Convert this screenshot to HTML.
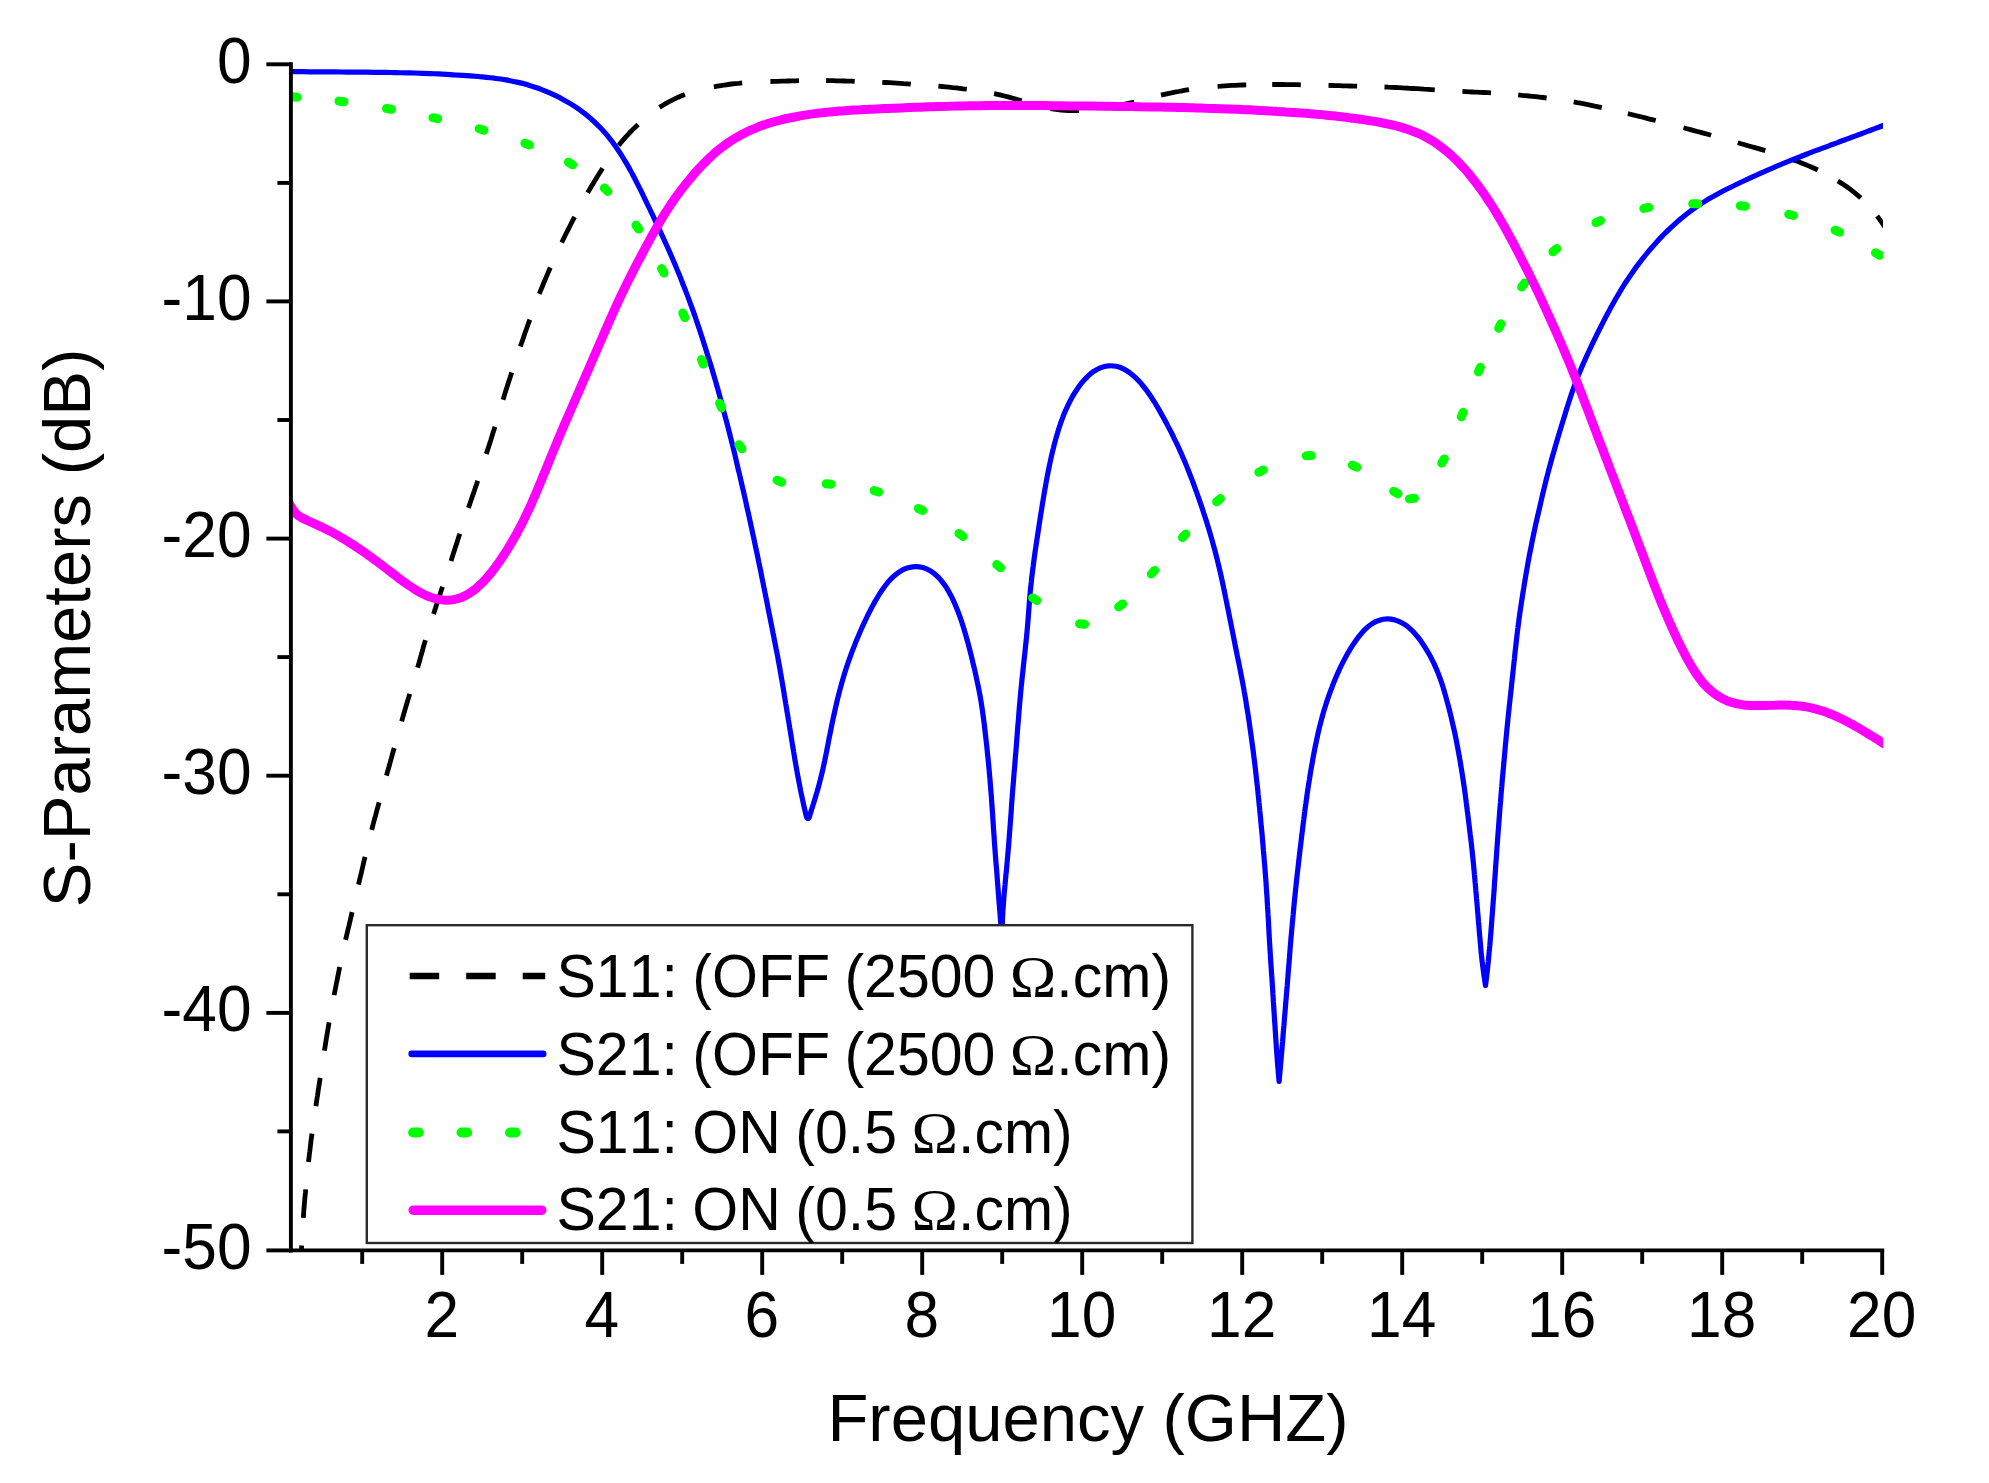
<!DOCTYPE html>
<html lang="en"><head><meta charset="utf-8"><title>S-Parameters vs Frequency</title>
<style>html,body{margin:0;padding:0;background:#fff}svg{display:block}text{font-family:"Liberation Sans",Arial,Helvetica,sans-serif;fill:#000;font-kerning:none}.om{font-family:"Liberation Serif","Times New Roman",serif}</style></head><body>
<svg width="1989" height="1483" viewBox="0 0 1989 1483">
<rect width="1989" height="1483" fill="#fff"/>
<g>
<defs><clipPath id="cp"><rect x="288.9" y="0" width="1594.1" height="1251.9"/></clipPath></defs>
<g clip-path="url(#cp)" fill="none">
<g stroke="#000" stroke-width="4.8" stroke-linecap="butt">
<path d="M300.3,1274L300.4,1270.5L300.6,1266.9L300.8,1263.3L301,1259.7L301.1,1256.2L301.3,1252.6L301.5,1249L301.7,1245.5M303.3,1217.9L303.6,1214.3L303.8,1210.8L304.1,1207.2L304.4,1203.7L304.7,1200.1L305,1196.5L305.4,1193L305.7,1189.4M308.5,1162L308.9,1158.4L309.3,1154.9L309.8,1151.3L310.2,1147.8L310.6,1144.2L311,1140.7L311.5,1137.1L312,1133.6M315.9,1106.2L316.4,1102.7L316.9,1099.1L317.5,1095.6L318,1092.1L318.5,1088.5L319.1,1085L319.6,1081.5L320.2,1077.9M324.4,1050.6L325,1047.1L325.6,1043.5L326.1,1040L326.7,1036.5L327.3,1032.9L327.9,1029.4L328.5,1025.9L329.1,1022.4M334.1,995.1L334.8,991.6L335.5,988.1L336.2,984.6L336.9,981.1L337.6,977.5L338.3,974L339,970.5L339.7,967M345.6,939.9L346.4,936.4L347.2,933L348,929.5L348.9,926L349.7,922.5L350.5,919L351.3,915.6L352.1,912.1M358.5,884.6L359.3,881.1L360.1,877.6L361,874.2L361.8,870.7L362.6,867.2L363.4,863.7L364.2,860.2L365.1,856.8M371.7,829.9L372.6,826.4L373.5,823L374.4,819.5L375.4,816.1L376.3,812.6L377.2,809.2L378.2,805.7L379.1,802.3M386.5,775.6L387.4,772.1L388.4,768.7L389.4,765.3L390.3,761.8L391.3,758.4L392.2,754.9L393.2,751.5L394.2,748M401.7,721.4L402.6,718L403.6,714.5L404.6,711.1L405.6,707.6L406.6,704.2L407.6,700.8L408.7,697.4L409.7,693.9M417.6,667.6L418.6,664.2L419.6,660.8L420.5,657.3L421.5,653.9L422.5,650.5L423.4,647L424.4,643.6L425.4,640.1M433.6,613.9L434.7,610.5L435.8,607.1L436.9,603.7L438,600.3L439.1,596.9L440.3,593.5L441.4,590.1L442.5,586.8M451,560.9L452.1,557.5L453.2,554.1L454.3,550.7L455.4,547.3L456.5,543.9L457.6,540.5L458.7,537.1L459.8,533.7M468.4,507.9L469.6,504.5L470.8,501.1L471.9,497.7L473.1,494.4L474.3,491L475.4,487.6L476.6,484.2L477.7,480.8M486.3,454L487.4,450.6L488.5,447.2L489.6,443.8L490.7,440.4L491.7,437L492.8,433.6L493.9,430.1L494.9,426.7M503,399.7L504.1,396.3L505.1,392.9L506.2,389.5L507.3,386.1L508.4,382.7L509.5,379.3L510.6,375.9L511.7,372.5M520.3,346.5L521.5,343.2L522.7,339.8L523.8,336.4L525,333L526.2,329.7L527.4,326.3L528.6,322.9L529.8,319.6M539.3,293.9L540.6,290.6L542,287.3L543.3,284L544.7,280.7L546.1,277.4L547.5,274.1L548.9,270.8L550.3,267.5M561.7,242.5L563.3,239.3L564.9,236L566.5,232.8L568.1,229.6L569.7,226.5L571.3,223.3L572.9,220.1L574.6,216.9M587.7,192.7L589.5,189.6L591.3,186.6L593.2,183.5L595,180.4L596.9,177.4L598.8,174.3L600.7,171.3L602.6,168.3M618.7,145.4L620.9,142.6L623.2,139.9L625.6,137.2L628,134.6L630.4,132L632.9,129.4L635.5,126.9L638.1,124.4M659.5,107.4L662.5,105.5L665.6,103.7L668.7,101.9L671.8,100.3L675.1,98.7L678.3,97.2L681.6,95.8L684.9,94.5M713.9,86.8L717.4,86.2L720.9,85.6L724.5,85L728,84.5L731.5,84L735.1,83.6L738.7,83.3L742.2,82.9M770.4,81.5L774,81.4L777.5,81.3L781.1,81.2L784.7,81.1L788.3,81L791.8,80.9L795.4,80.8L799,80.7M826.1,80.5L829.7,80.6L833.2,80.7L836.8,80.8L840.4,80.9L844,81L847.5,81.1L851.1,81.2L854.7,81.4M882.3,82.3L885.8,82.5L889.4,82.7L893,82.9L896.6,83.1L900.1,83.3L903.7,83.6L907.3,83.8L910.8,84.1M938.4,86.2L941.9,86.5L945.5,86.8L949.1,87.2L952.6,87.6L956.2,87.9L959.7,88.3L963.3,88.8L966.8,89.2M994.1,93.6L997.6,94.3L1001,95.1L1004.5,96L1008,96.9L1011.4,97.9L1014.8,98.8L1018.3,99.8L1021.7,100.8M1050.5,108.6L1054,109.2L1057.6,109.7L1061.1,110.1L1064.7,110.4L1068.2,110.6L1071.8,110.7L1075.4,110.7L1079,110.7M1106.3,107.9L1109.8,107.3L1113.4,106.6L1116.9,105.9L1120.4,105.2L1123.9,104.4L1127.3,103.6L1130.8,102.8L1134.3,102M1161,95.2L1164.5,94.4L1167.9,93.6L1171.4,92.9L1174.9,92.1L1178.5,91.5L1182,90.8L1185.5,90.2L1189,89.6M1217.6,86.3L1221.2,86.1L1224.7,85.8L1228.3,85.6L1231.9,85.4L1235.4,85.3L1239,85.1L1242.6,85L1246.2,84.9M1272.2,84.5L1275.8,84.5L1279.4,84.5L1282.9,84.5L1286.5,84.6L1290.1,84.6L1293.6,84.7L1297.2,84.7L1300.8,84.8M1328.5,85.4L1332.1,85.5L1335.6,85.6L1339.2,85.7L1342.8,85.8L1346.4,85.9L1349.9,86L1353.5,86.1L1357.1,86.2M1384.5,87L1388.1,87.2L1391.6,87.3L1395.2,87.5L1398.8,87.7L1402.3,87.9L1405.9,88.1L1409.5,88.3L1413.1,88.5M1406.3,88.1L1409.9,88.3L1413.4,88.5L1417,88.7L1420.6,88.9L1424.1,89.2L1427.7,89.4L1431.3,89.6L1434.8,89.8M1462.4,91.4L1466,91.6L1469.5,91.8L1473.1,92L1476.7,92.1L1480.3,92.3L1483.8,92.5L1487.4,92.7L1491,92.9M1518.2,94.9L1521.8,95.3L1525.3,95.6L1528.9,96L1532.4,96.3L1536,96.7L1539.5,97.1L1543.1,97.5L1546.6,98M1573.7,101.9L1577.3,102.6L1580.8,103.2L1584.3,103.9L1587.8,104.6L1591.3,105.3L1594.8,106.1L1598.3,106.8L1601.8,107.6M1627.9,113.7L1631.4,114.5L1634.9,115.3L1638.3,116.2L1641.8,117L1645.3,117.9L1648.7,118.8L1652.2,119.6L1655.7,120.5M1683.5,127.8L1687,128.7L1690.4,129.6L1693.9,130.6L1697.3,131.5L1700.8,132.4L1704.2,133.4L1707.7,134.3L1711.1,135.3M1737.8,142.8L1741.2,143.8L1744.7,144.7L1748.1,145.7L1751.6,146.7L1755,147.6L1758.4,148.6L1761.9,149.6L1765.3,150.6M1791.4,159.1L1794.7,160.4L1798.1,161.6L1801.4,162.9L1804.7,164.2L1808,165.6L1811.3,167L1814.6,168.5L1817.8,170M1837.8,181L1840.9,182.9L1843.8,184.8L1846.8,186.8L1849.7,188.9L1852.6,191.1L1855.4,193.3L1858.1,195.6L1860.8,198M1877.1,216L1879.4,219.1L1881.6,222.2L1883.8,225.4L1885.9,228.6L1887.9,231.8L1890,235"/>
</g>
<path d="M286,71.6C287.3,71.6 291.3,71.6 294,71.7C296.7,71.7 299.4,71.7 302,71.7C304.7,71.7 307.4,71.7 310.1,71.8C312.7,71.8 315.4,71.8 318.1,71.8C320.8,71.8 323.4,71.9 326.1,71.9C328.8,71.9 331.5,71.9 334.1,71.9C336.8,72 339.5,72 342.2,72C344.8,72 347.5,72.1 350.2,72.1C352.9,72.1 355.5,72.1 358.2,72.2C360.9,72.2 363.6,72.2 366.2,72.2C368.9,72.3 371.6,72.3 374.2,72.3C376.9,72.3 379.6,72.4 382.3,72.4C384.9,72.4 387.6,72.5 390.3,72.5C393,72.6 395.6,72.6 398.3,72.7C401,72.7 403.7,72.8 406.3,72.8C409,72.9 411.7,72.9 414.4,73C417,73.1 419.7,73.2 422.4,73.3C425,73.4 427.7,73.5 430.4,73.6C433.1,73.7 435.7,73.8 438.4,73.9C441.1,74 443.7,74.2 446.4,74.3C449.1,74.5 451.8,74.6 454.4,74.8C457.1,74.9 459.8,75.1 462.4,75.3C465.1,75.5 467.8,75.7 470.4,75.9C473.1,76.1 475.8,76.3 478.4,76.5C481.1,76.8 483.8,77 486.4,77.3C489.1,77.6 491.7,77.9 494.4,78.2C497,78.6 499.7,78.9 502.3,79.3C505,79.8 507.6,80.2 510.2,80.7C512.9,81.2 515.5,81.8 518.1,82.4C520.7,83 523.3,83.6 525.9,84.3C528.4,85.1 531,85.8 533.5,86.7C536.1,87.5 538.6,88.4 541.1,89.3C543.6,90.3 546.1,91.3 548.5,92.3C551,93.4 553.4,94.5 555.8,95.7C558.2,96.9 560.6,98.1 562.9,99.4C565.3,100.7 567.6,102 569.9,103.4C572.2,104.8 574.4,106.2 576.6,107.7C578.8,109.2 581,110.8 583.1,112.4C585.3,114 587.4,115.7 589.4,117.4C591.4,119.2 593.4,121 595.4,122.8C597.3,124.6 599.2,126.5 601.1,128.5C602.9,130.4 604.7,132.4 606.4,134.4C608.1,136.5 609.8,138.6 611.4,140.7C613.1,142.8 614.6,145 616.2,147.2C617.7,149.4 619.2,151.6 620.6,153.8C622.1,156.1 623.5,158.4 624.8,160.7C626.2,163 627.6,165.3 628.9,167.6C630.2,169.9 631.4,172.3 632.7,174.6C634,177 635.2,179.4 636.4,181.8C637.6,184.1 638.8,186.5 640,188.9C641.2,191.3 642.4,193.7 643.5,196.1C644.7,198.5 645.9,201 647,203.4C648.2,205.8 649.3,208.2 650.5,210.6C651.6,213 652.8,215.4 653.9,217.8C655.1,220.3 656.2,222.7 657.3,225.1C658.5,227.5 659.6,230 660.7,232.4C661.8,234.8 663,237.2 664.1,239.7C665.2,242.1 666.3,244.5 667.4,247C668.5,249.4 669.6,251.9 670.6,254.3C671.7,256.8 672.8,259.2 673.8,261.7C674.9,264.1 675.9,266.6 676.9,269.1C677.9,271.5 679,274 680,276.5C681,279 682,281.5 682.9,284C683.9,286.4 684.9,288.9 685.8,291.4C686.8,293.9 687.8,296.4 688.7,298.9C689.6,301.4 690.5,303.9 691.5,306.5C692.4,309 693.3,311.5 694.2,314C695.1,316.5 695.9,319.1 696.8,321.6C697.7,324.1 698.5,326.7 699.4,329.2C700.2,331.7 701,334.3 701.9,336.8C702.7,339.4 703.5,341.9 704.3,344.5C705.1,347 705.9,349.6 706.7,352.1C707.5,354.7 708.3,357.2 709.1,359.8C709.9,362.3 710.7,364.9 711.5,367.4C712.2,370 713,372.6 713.8,375.1C714.5,377.7 715.3,380.3 716,382.8C716.7,385.4 717.5,388 718.2,390.5C718.9,393.1 719.6,395.7 720.3,398.3C721,400.9 721.7,403.5 722.4,406C723.1,408.6 723.7,411.2 724.4,413.8C725.1,416.4 725.8,419 726.5,421.5C727.2,424.1 727.9,426.7 728.5,429.3C729.2,431.9 729.9,434.5 730.5,437.1C731.2,439.7 731.8,442.3 732.5,444.9C733.1,447.5 733.7,450.1 734.4,452.7C735,455.3 735.6,457.9 736.2,460.5C736.8,463.1 737.4,465.7 738,468.3C738.6,470.9 739.3,473.5 739.9,476.1C740.5,478.7 741.1,481.3 741.7,483.9C742.3,486.5 742.9,489.1 743.5,491.7C744.1,494.3 744.7,496.9 745.3,499.5C745.9,502.1 746.4,504.8 747,507.4C747.6,510 748.2,512.6 748.8,515.2C749.3,517.8 749.9,520.4 750.5,523C751,525.6 751.6,528.3 752.2,530.9C752.7,533.5 753.3,536.1 753.9,538.7C754.4,541.3 755,543.9 755.5,546.6C756.1,549.2 756.7,551.8 757.2,554.4C757.8,557 758.3,559.6 758.8,562.3C759.4,564.9 759.9,567.5 760.5,570.1C761,572.7 761.5,575.4 762,578C762.6,580.6 763.1,583.2 763.6,585.9C764.1,588.5 764.7,591.1 765.2,593.7C765.7,596.3 766.2,599 766.8,601.6C767.3,604.2 767.8,606.8 768.3,609.5C768.8,612.1 769.4,614.7 769.9,617.3C770.4,620 770.9,622.6 771.5,625.2C772,627.8 772.5,630.4 773,633.1C773.6,635.7 774.1,638.3 774.6,640.9C775.1,643.6 775.6,646.2 776.1,648.8C776.7,651.4 777.2,654.1 777.7,656.7C778.1,659.3 778.6,661.9 779.1,664.6C779.6,667.2 780.1,669.8 780.5,672.5C781,675.1 781.4,677.7 781.9,680.4C782.3,683 782.8,685.6 783.2,688.3C783.7,690.9 784.1,693.6 784.5,696.2C785,698.8 785.4,701.5 785.8,704.1C786.3,706.8 786.7,709.4 787.1,712C787.6,714.7 788,717.3 788.4,719.9C788.9,722.6 789.3,725.2 789.7,727.9C790.2,730.5 790.6,733.1 791,735.8C791.5,738.4 791.9,741.1 792.3,743.7C792.8,746.3 793.2,749 793.6,751.6C794.1,754.3 794.5,756.9 794.9,759.5C795.4,762.2 795.8,764.8 796.3,767.4C796.8,770.1 797.2,772.7 797.7,775.3C798.2,778 798.7,780.6 799.2,783.2C799.7,785.9 800.2,788.5 800.7,791.1C801.3,793.7 801.8,796.3 802.4,798.9C802.9,801.6 803.5,804.2 804.1,806.8C804.7,809.4 805.6,813.3 805.9,814.6C806.8,819.9 809.1,819.9 810,814.6C810.4,813.3 811.6,809.5 812.4,807C813.2,804.5 814,801.9 814.8,799.4C815.6,796.9 816.3,794.3 817.1,791.8C817.8,789.2 818.5,786.6 819.2,784.1C819.9,781.5 820.5,778.9 821.2,776.3C821.8,773.8 822.4,771.2 823,768.6C823.6,766 824.1,763.4 824.7,760.8C825.2,758.2 825.8,755.6 826.3,753C826.8,750.4 827.3,747.8 827.8,745.2C828.3,742.5 828.8,739.9 829.3,737.3C829.9,734.7 830.4,732.1 830.9,729.5C831.4,726.9 831.9,724.3 832.5,721.7C833,719.1 833.6,716.5 834.2,713.9C834.7,711.3 835.3,708.7 835.9,706.1C836.5,703.5 837.1,700.9 837.7,698.4C838.4,695.8 839,693.2 839.7,690.6C840.4,688.1 841.1,685.5 841.8,682.9C842.5,680.4 843.3,677.8 844,675.3C844.8,672.7 845.6,670.2 846.4,667.7C847.2,665.2 848.1,662.6 849,660.1C849.9,657.6 850.8,655.1 851.7,652.6C852.6,650.1 853.6,647.7 854.6,645.2C855.5,642.7 856.5,640.3 857.6,637.8C858.6,635.4 859.6,632.9 860.7,630.5C861.8,628 862.9,625.6 864,623.2C865.1,620.8 866.3,618.4 867.4,616C868.6,613.6 869.8,611.3 871,608.9C872.3,606.6 873.5,604.2 874.8,601.9C876.1,599.6 877.5,597.3 878.9,595C880.3,592.8 881.7,590.5 883.3,588.4C884.8,586.2 886.4,584.1 888.1,582.1C889.9,580.1 891.7,578.1 893.7,576.3C895.6,574.6 897.7,572.9 900,571.5C902.2,570.1 904.7,568.9 907.2,568.1C909.7,567.3 912.4,566.7 915,566.6C917.6,566.5 920.3,566.9 922.9,567.6C925.4,568.3 927.9,569.4 930.2,570.7C932.4,572 934.6,573.7 936.5,575.5C938.5,577.3 940.3,579.3 941.9,581.3C943.6,583.4 945.1,585.6 946.6,587.8C948,590.1 949.3,592.4 950.5,594.8C951.8,597.1 952.9,599.5 954,601.9C955.1,604.3 956.1,606.8 957.1,609.3C958.1,611.7 959,614.2 959.9,616.7C960.8,619.2 961.7,621.8 962.5,624.3C963.3,626.8 964.1,629.4 964.8,631.9C965.6,634.4 966.3,637 967,639.6C967.8,642.1 968.4,644.7 969.1,647.3C969.8,649.8 970.4,652.4 971.1,655C971.7,657.6 972.3,660.2 972.9,662.7C973.6,665.3 974.2,667.9 974.8,670.5C975.4,673.1 976,675.7 976.5,678.3C977.1,680.9 977.6,683.5 978.2,686.1C978.7,688.7 979.2,691.3 979.7,693.9C980.2,696.5 980.6,699.1 981.1,701.8C981.5,704.4 981.9,707 982.3,709.6C982.7,712.3 983,714.9 983.4,717.5C983.7,720.2 984.1,722.8 984.4,725.4C984.7,728.1 985,730.7 985.3,733.4C985.6,736 985.9,738.6 986.2,741.3C986.5,743.9 986.8,746.6 987.1,749.2C987.3,751.9 987.6,754.5 987.9,757.1C988.2,759.8 988.4,762.4 988.7,765.1C988.9,767.7 989.2,770.4 989.4,773C989.6,775.7 989.9,778.3 990.1,781C990.3,783.6 990.5,786.3 990.7,788.9C990.9,791.6 991.1,794.2 991.4,796.9C991.6,799.5 991.7,802.2 991.9,804.8C992.1,807.5 992.3,810.1 992.5,812.8C992.7,815.4 992.8,818.1 993,820.7C993.2,823.4 993.3,826 993.5,828.7C993.7,831.3 993.9,834 994.1,836.6C994.2,839.3 994.4,841.9 994.6,844.6C994.8,847.2 995,849.9 995.2,852.5C995.4,855.2 995.6,857.8 995.8,860.5C996,863.1 996.2,865.8 996.5,868.4C996.7,871.1 996.9,873.7 997.1,876.4C997.3,879 997.5,881.7 997.7,884.3C997.9,887 998.1,889.6 998.3,892.3C998.5,894.9 998.7,897.6 998.9,900.2C999.1,902.9 999.4,905.5 999.6,908.2C999.8,910.8 1000,913.5 1000.2,916.1C1000.4,918.8 1000.6,921.4 1000.8,924.1C1001,926.7 1001.1,929.4 1001.3,932C1001.4,934.7 1001.6,938.7 1001.7,940C1001.7,938.7 1001.9,934.7 1002,932C1002.1,929.4 1002.2,926.7 1002.3,924C1002.4,921.4 1002.5,918.7 1002.6,916.1C1002.8,913.4 1002.9,910.7 1003.1,908.1C1003.3,905.4 1003.5,902.8 1003.7,900.1C1003.9,897.5 1004.1,894.8 1004.3,892.2C1004.6,889.5 1004.8,886.9 1005.1,884.2C1005.3,881.6 1005.6,878.9 1005.8,876.3C1006.1,873.6 1006.4,871 1006.6,868.3C1006.9,865.7 1007.1,863 1007.3,860.4C1007.6,857.7 1007.8,855.1 1008,852.4C1008.2,849.8 1008.5,847.1 1008.7,844.5C1008.9,841.8 1009.1,839.2 1009.3,836.5C1009.5,833.9 1009.7,831.2 1009.9,828.5C1010.1,825.9 1010.3,823.2 1010.5,820.6C1010.7,817.9 1010.9,815.3 1011.1,812.6C1011.3,810 1011.4,807.3 1011.6,804.7C1011.8,802 1012,799.3 1012.2,796.7C1012.4,794 1012.6,791.4 1012.8,788.7C1013.1,786.1 1013.3,783.4 1013.5,780.8C1013.7,778.1 1013.9,775.5 1014.1,772.8C1014.4,770.2 1014.6,767.5 1014.8,764.9C1015,762.2 1015.2,759.5 1015.4,756.9C1015.7,754.2 1015.9,751.6 1016.1,748.9C1016.3,746.3 1016.5,743.6 1016.7,741C1016.9,738.3 1017.1,735.7 1017.3,733C1017.5,730.4 1017.7,727.7 1017.9,725.1C1018.2,722.4 1018.4,719.8 1018.6,717.1C1018.8,714.4 1019,711.8 1019.2,709.1C1019.4,706.5 1019.7,703.8 1019.9,701.2C1020.1,698.5 1020.4,695.9 1020.6,693.2C1020.9,690.6 1021.1,687.9 1021.4,685.3C1021.7,682.6 1021.9,680 1022.2,677.3C1022.5,674.7 1022.8,672 1023.1,669.4C1023.3,666.8 1023.6,664.1 1023.9,661.5C1024.2,658.8 1024.5,656.2 1024.8,653.5C1025.1,650.9 1025.4,648.2 1025.6,645.6C1025.9,642.9 1026.2,640.3 1026.5,637.6C1026.7,635 1027,632.4 1027.2,629.7C1027.5,627 1027.7,624.4 1027.9,621.7C1028.1,619.1 1028.3,616.4 1028.5,613.8C1028.7,611.1 1028.9,608.5 1029.1,605.8C1029.3,603.2 1029.5,600.5 1029.7,597.9C1030,595.2 1030.2,592.6 1030.4,589.9C1030.7,587.3 1031,584.6 1031.3,582C1031.5,579.3 1031.8,576.7 1032.2,574C1032.5,571.4 1032.8,568.8 1033.2,566.1C1033.5,563.5 1033.9,560.8 1034.2,558.2C1034.6,555.6 1035,552.9 1035.3,550.3C1035.7,547.7 1036.1,545 1036.5,542.4C1036.9,539.8 1037.3,537.1 1037.7,534.5C1038.1,531.9 1038.5,529.2 1038.9,526.6C1039.3,524 1039.7,521.3 1040.1,518.7C1040.5,516.1 1040.9,513.5 1041.4,510.8C1041.8,508.2 1042.2,505.6 1042.6,502.9C1043.1,500.3 1043.5,497.7 1043.9,495.1C1044.4,492.4 1044.8,489.8 1045.3,487.2C1045.8,484.6 1046.2,482 1046.7,479.3C1047.2,476.7 1047.7,474.1 1048.2,471.5C1048.7,468.9 1049.3,466.3 1049.8,463.7C1050.4,461.1 1050.9,458.5 1051.5,455.9C1052.1,453.3 1052.7,450.7 1053.4,448.1C1054,445.5 1054.7,442.9 1055.4,440.4C1056.1,437.8 1056.8,435.3 1057.6,432.7C1058.3,430.2 1059.1,427.6 1060,425.1C1060.8,422.6 1061.7,420.1 1062.7,417.6C1063.6,415.1 1064.6,412.6 1065.7,410.2C1066.8,407.8 1067.9,405.3 1069.1,403C1070.3,400.6 1071.5,398.2 1072.9,395.9C1074.2,393.6 1075.6,391.4 1077.1,389.2C1078.6,387 1080.2,384.8 1081.9,382.7C1083.5,380.7 1085.3,378.7 1087.2,376.8C1089.1,375 1091.2,373.2 1093.3,371.7C1095.5,370.2 1097.8,368.8 1100.3,367.8C1102.7,366.9 1105.4,366.1 1108,365.9C1110.6,365.6 1113.4,365.8 1115.9,366.3C1118.5,366.8 1121.1,367.7 1123.5,368.9C1125.8,370 1128.1,371.5 1130.2,373.1C1132.4,374.6 1134.3,376.5 1136.3,378.3C1138.2,380.2 1140,382.1 1141.7,384.2C1143.4,386.2 1145,388.3 1146.6,390.4C1148.2,392.6 1149.7,394.8 1151.2,397C1152.6,399.2 1154.1,401.5 1155.5,403.7C1156.8,406 1158.2,408.3 1159.5,410.6C1160.8,412.9 1162.1,415.2 1163.4,417.6C1164.7,419.9 1166,422.2 1167.2,424.6C1168.4,427 1169.7,429.3 1170.9,431.7C1172.1,434.1 1173.3,436.4 1174.4,438.8C1175.6,441.2 1176.7,443.6 1177.9,446C1179,448.5 1180.1,450.9 1181.2,453.3C1182.2,455.7 1183.3,458.2 1184.3,460.6C1185.4,463.1 1186.4,465.6 1187.4,468C1188.4,470.5 1189.4,473 1190.3,475.4C1191.3,477.9 1192.3,480.4 1193.2,482.9C1194.1,485.4 1195,487.9 1195.9,490.4C1196.8,492.9 1197.7,495.4 1198.6,497.9C1199.5,500.4 1200.4,502.9 1201.2,505.5C1202.1,508 1202.9,510.5 1203.7,513C1204.6,515.6 1205.4,518.1 1206.2,520.6C1207,523.2 1207.8,525.7 1208.6,528.3C1209.3,530.8 1210.1,533.4 1210.8,535.9C1211.6,538.5 1212.3,541 1213,543.6C1213.7,546.2 1214.4,548.7 1215.1,551.3C1215.8,553.9 1216.4,556.5 1217.1,559C1217.7,561.6 1218.3,564.2 1219,566.8C1219.6,569.4 1220.2,572 1220.8,574.6C1221.3,577.2 1221.9,579.8 1222.5,582.4C1223,585 1223.6,587.6 1224.1,590.2C1224.7,592.8 1225.2,595.4 1225.7,598C1226.3,600.6 1226.8,603.2 1227.3,605.8C1227.9,608.4 1228.4,611.1 1228.9,613.7C1229.4,616.3 1229.9,618.9 1230.5,621.5C1231,624.1 1231.5,626.7 1232,629.3C1232.5,631.9 1233,634.5 1233.6,637.2C1234.1,639.8 1234.6,642.4 1235.1,645C1235.6,647.6 1236.2,650.2 1236.7,652.8C1237.2,655.4 1237.8,658 1238.3,660.6C1238.8,663.2 1239.4,665.9 1239.9,668.5C1240.4,671.1 1240.9,673.7 1241.4,676.3C1241.9,678.9 1242.4,681.5 1242.9,684.1C1243.4,686.8 1243.9,689.4 1244.3,692C1244.8,694.6 1245.2,697.2 1245.7,699.9C1246.1,702.5 1246.5,705.1 1246.9,707.8C1247.4,710.4 1247.8,713 1248.2,715.6C1248.6,718.3 1249,720.9 1249.4,723.5C1249.7,726.2 1250.1,728.8 1250.5,731.4C1250.9,734.1 1251.2,736.7 1251.6,739.3C1252,742 1252.3,744.6 1252.7,747.3C1253,749.9 1253.4,752.5 1253.7,755.2C1254,757.8 1254.4,760.5 1254.7,763.1C1255,765.7 1255.3,768.4 1255.6,771C1255.9,773.7 1256.2,776.3 1256.5,779C1256.8,781.6 1257.1,784.3 1257.4,786.9C1257.7,789.5 1258,792.2 1258.2,794.8C1258.5,797.5 1258.8,800.1 1259,802.8C1259.3,805.4 1259.6,808.1 1259.8,810.7C1260.1,813.4 1260.3,816 1260.6,818.7C1260.8,821.3 1261.1,824 1261.3,826.6C1261.6,829.3 1261.8,831.9 1262.1,834.6C1262.3,837.2 1262.5,839.9 1262.8,842.5C1263,845.2 1263.2,847.8 1263.4,850.5C1263.7,853.1 1263.9,855.8 1264.1,858.4C1264.3,861.1 1264.5,863.8 1264.8,866.4C1265,869.1 1265.2,871.7 1265.4,874.4C1265.6,877 1265.8,879.7 1266,882.3C1266.2,885 1266.3,887.6 1266.5,890.3C1266.7,892.9 1266.9,895.6 1267.1,898.3C1267.2,900.9 1267.4,903.6 1267.5,906.2C1267.7,908.9 1267.9,911.5 1268,914.2C1268.2,916.9 1268.3,919.5 1268.5,922.2C1268.6,924.8 1268.7,927.5 1268.9,930.1C1269,932.8 1269.2,935.5 1269.3,938.1C1269.5,940.8 1269.6,943.4 1269.8,946.1C1270,948.7 1270.1,951.4 1270.3,954.1C1270.5,956.7 1270.6,959.4 1270.8,962C1271,964.7 1271.2,967.3 1271.3,970C1271.5,972.6 1271.7,975.3 1271.9,978C1272.1,980.6 1272.2,983.3 1272.4,985.9C1272.6,988.6 1272.8,991.2 1272.9,993.9C1273.1,996.5 1273.3,999.2 1273.4,1001.9C1273.6,1004.5 1273.8,1007.2 1273.9,1009.8C1274.1,1012.5 1274.3,1015.1 1274.4,1017.8C1274.6,1020.5 1274.8,1023.1 1275,1025.8C1275.1,1028.4 1275.3,1031.1 1275.5,1033.7C1275.6,1036.4 1275.8,1039 1276,1041.7C1276.2,1044.4 1276.3,1047 1276.5,1049.7C1276.7,1052.3 1276.9,1055 1277.1,1057.6C1277.3,1060.3 1277.5,1062.9 1277.7,1065.6C1278,1068.2 1278.2,1070.9 1278.4,1073.5C1278.6,1076.2 1279,1080.2 1279.1,1081.5C1279.2,1080.2 1279.6,1076.2 1279.8,1073.6C1280.1,1070.9 1280.3,1068.3 1280.5,1065.6C1280.8,1062.9 1281,1060.3 1281.2,1057.6C1281.5,1055 1281.7,1052.3 1281.9,1049.7C1282.1,1047 1282.3,1044.4 1282.6,1041.7C1282.8,1039.1 1283,1036.4 1283.2,1033.8C1283.4,1031.1 1283.6,1028.5 1283.9,1025.8C1284.1,1023.2 1284.3,1020.5 1284.5,1017.9C1284.7,1015.2 1285,1012.6 1285.2,1009.9C1285.4,1007.3 1285.6,1004.6 1285.8,1002C1286.1,999.3 1286.3,996.7 1286.5,994C1286.7,991.4 1286.9,988.7 1287.2,986C1287.4,983.4 1287.6,980.7 1287.8,978.1C1288,975.4 1288.2,972.8 1288.4,970.1C1288.6,967.5 1288.9,964.8 1289.1,962.2C1289.3,959.5 1289.5,956.9 1289.7,954.2C1289.9,951.6 1290.1,948.9 1290.3,946.3C1290.6,943.6 1290.8,941 1291,938.3C1291.2,935.7 1291.5,933 1291.7,930.4C1291.9,927.7 1292.2,925.1 1292.4,922.4C1292.7,919.8 1292.9,917.1 1293.2,914.5C1293.4,911.8 1293.7,909.2 1293.9,906.5C1294.2,903.9 1294.4,901.2 1294.7,898.6C1295,895.9 1295.2,893.3 1295.5,890.6C1295.8,888 1296.1,885.3 1296.3,882.7C1296.6,880 1296.9,877.4 1297.2,874.7C1297.5,872.1 1297.8,869.5 1298.1,866.8C1298.4,864.2 1298.7,861.5 1299,858.9C1299.3,856.2 1299.6,853.6 1299.9,851C1300.2,848.3 1300.6,845.7 1300.9,843C1301.2,840.4 1301.5,837.7 1301.8,835.1C1302.1,832.5 1302.5,829.8 1302.8,827.2C1303.1,824.5 1303.4,821.9 1303.8,819.3C1304.1,816.6 1304.4,814 1304.8,811.3C1305.1,808.7 1305.5,806.1 1305.9,803.4C1306.2,800.8 1306.6,798.2 1307,795.5C1307.3,792.9 1307.7,790.3 1308.1,787.6C1308.5,785 1308.9,782.4 1309.4,779.7C1309.8,777.1 1310.2,774.5 1310.6,771.9C1311.1,769.2 1311.5,766.6 1312,764C1312.5,761.4 1312.9,758.7 1313.4,756.1C1313.9,753.5 1314.4,750.9 1314.9,748.3C1315.4,745.7 1316,743.1 1316.5,740.5C1317.1,737.9 1317.6,735.3 1318.2,732.7C1318.8,730.1 1319.4,727.5 1320.1,724.9C1320.7,722.3 1321.4,719.8 1322.1,717.2C1322.8,714.6 1323.5,712.1 1324.3,709.5C1325.1,707 1325.9,704.4 1326.7,701.9C1327.5,699.4 1328.4,696.9 1329.3,694.3C1330.2,691.8 1331.1,689.3 1332.1,686.9C1333,684.4 1334,681.9 1335,679.5C1336.1,677 1337.1,674.6 1338.2,672.1C1339.3,669.7 1340.4,667.3 1341.6,664.9C1342.8,662.5 1344,660.1 1345.3,657.8C1346.5,655.5 1347.8,653.1 1349.2,650.9C1350.5,648.6 1351.9,646.3 1353.4,644.1C1354.9,641.9 1356.4,639.7 1358,637.6C1359.6,635.5 1361.3,633.4 1363.1,631.4C1364.9,629.5 1366.9,627.6 1368.9,626C1371,624.4 1373.3,622.9 1375.7,621.7C1378.1,620.6 1380.7,619.7 1383.2,619.2C1385.8,618.8 1388.6,618.8 1391.2,619.1C1393.8,619.5 1396.4,620.3 1398.8,621.3C1401.3,622.3 1403.6,623.7 1405.8,625.2C1407.9,626.7 1409.9,628.5 1411.9,630.4C1413.8,632.2 1415.5,634.2 1417.2,636.3C1418.9,638.3 1420.5,640.5 1422,642.7C1423.5,644.9 1424.9,647.1 1426.3,649.4C1427.7,651.7 1429,654 1430.3,656.3C1431.5,658.7 1432.7,661 1433.9,663.4C1435,665.8 1436.1,668.3 1437.1,670.7C1438.2,673.2 1439.1,675.7 1440,678.2C1440.9,680.7 1441.8,683.2 1442.6,685.7C1443.4,688.3 1444.1,690.8 1444.9,693.4C1445.6,695.9 1446.3,698.5 1447,701.1C1447.7,703.6 1448.4,706.2 1449.1,708.8C1449.7,711.4 1450.4,713.9 1451,716.5C1451.6,719.1 1452.2,721.7 1452.8,724.3C1453.4,726.9 1454,729.5 1454.6,732.1C1455.1,734.7 1455.6,737.3 1456.2,739.9C1456.7,742.5 1457.2,745.1 1457.7,747.7C1458.2,750.4 1458.7,753 1459.1,755.6C1459.6,758.2 1460.1,760.8 1460.5,763.5C1460.9,766.1 1461.4,768.7 1461.8,771.3C1462.2,774 1462.6,776.6 1463,779.2C1463.4,781.8 1463.8,784.5 1464.2,787.1C1464.6,789.7 1464.9,792.4 1465.3,795C1465.6,797.7 1466,800.3 1466.3,802.9C1466.7,805.6 1467,808.2 1467.3,810.9C1467.7,813.5 1468,816.1 1468.3,818.8C1468.6,821.4 1469,824.1 1469.3,826.7C1469.6,829.3 1469.9,832 1470.2,834.6C1470.6,837.3 1470.9,839.9 1471.2,842.6C1471.5,845.2 1471.8,847.8 1472.1,850.5C1472.3,853.1 1472.6,855.8 1472.9,858.4C1473.2,861.1 1473.4,863.7 1473.7,866.4C1473.9,869 1474.2,871.7 1474.4,874.3C1474.7,877 1474.9,879.6 1475.1,882.3C1475.4,884.9 1475.6,887.6 1475.8,890.2C1476.1,892.9 1476.3,895.5 1476.5,898.2C1476.8,900.8 1477,903.5 1477.2,906.1C1477.4,908.8 1477.6,911.4 1477.9,914.1C1478.1,916.7 1478.3,919.4 1478.5,922C1478.8,924.7 1479,927.3 1479.2,930C1479.4,932.6 1479.6,935.3 1479.9,937.9C1480.1,940.6 1480.3,943.3 1480.6,945.9C1480.8,948.6 1481,951.2 1481.3,953.9C1481.6,956.5 1481.8,959.1 1482.2,961.8C1482.5,964.4 1482.8,967.1 1483.2,969.7C1483.5,972.3 1483.9,975 1484.3,977.6C1484.7,980.2 1485.3,984.2 1485.5,985.5C1485.7,984.2 1486.2,980.2 1486.5,977.6C1486.8,974.9 1487.1,972.3 1487.4,969.6C1487.7,967 1488,964.3 1488.3,961.7C1488.5,959 1488.8,956.4 1489,953.7C1489.3,951.1 1489.5,948.4 1489.8,945.8C1490,943.1 1490.2,940.4 1490.4,937.8C1490.7,935.1 1490.9,932.5 1491.1,929.8C1491.3,927.2 1491.5,924.5 1491.7,921.9C1491.9,919.2 1492.1,916.5 1492.3,913.9C1492.5,911.2 1492.7,908.6 1492.9,905.9C1493.1,903.3 1493.3,900.6 1493.5,897.9C1493.7,895.3 1493.9,892.6 1494.1,890C1494.3,887.3 1494.4,884.6 1494.6,882C1494.8,879.3 1495,876.7 1495.2,874C1495.4,871.4 1495.5,868.7 1495.7,866C1495.9,863.4 1496.1,860.7 1496.3,858.1C1496.5,855.4 1496.7,852.7 1496.8,850.1C1497,847.4 1497.2,844.8 1497.4,842.1C1497.6,839.5 1497.8,836.8 1498,834.1C1498.2,831.5 1498.4,828.8 1498.6,826.2C1498.8,823.5 1499,820.9 1499.2,818.2C1499.4,815.5 1499.6,812.9 1499.8,810.2C1500,807.6 1500.2,804.9 1500.5,802.3C1500.7,799.6 1500.9,796.9 1501.1,794.3C1501.3,791.6 1501.5,789 1501.8,786.3C1502,783.7 1502.2,781 1502.4,778.4C1502.7,775.7 1502.9,773.1 1503.2,770.4C1503.4,767.7 1503.6,765.1 1503.9,762.4C1504.1,759.8 1504.4,757.1 1504.6,754.5C1504.9,751.8 1505.1,749.2 1505.3,746.5C1505.6,743.9 1505.8,741.2 1506.1,738.6C1506.3,735.9 1506.6,733.2 1506.8,730.6C1507.1,727.9 1507.3,725.3 1507.6,722.6C1507.9,720 1508.1,717.3 1508.4,714.7C1508.7,712 1509,709.4 1509.2,706.7C1509.5,704.1 1509.8,701.4 1510.1,698.8C1510.4,696.1 1510.7,693.5 1511,690.8C1511.3,688.2 1511.5,685.5 1511.8,682.9C1512.1,680.2 1512.4,677.6 1512.7,674.9C1513,672.3 1513.2,669.6 1513.5,667C1513.8,664.3 1514.1,661.7 1514.4,659C1514.6,656.4 1514.9,653.7 1515.2,651.1C1515.5,648.4 1515.8,645.8 1516.1,643.1C1516.4,640.5 1516.7,637.9 1517,635.2C1517.3,632.6 1517.6,629.9 1518,627.3C1518.3,624.6 1518.7,622 1519,619.3C1519.4,616.7 1519.8,614.1 1520.1,611.4C1520.5,608.8 1520.9,606.2 1521.3,603.5C1521.7,600.9 1522.1,598.3 1522.5,595.6C1522.9,593 1523.3,590.4 1523.8,587.7C1524.2,585.1 1524.6,582.5 1525.1,579.8C1525.5,577.2 1525.9,574.6 1526.4,572C1526.9,569.3 1527.3,566.7 1527.8,564.1C1528.3,561.5 1528.8,558.8 1529.2,556.2C1529.7,553.6 1530.2,551 1530.8,548.4C1531.3,545.8 1531.8,543.1 1532.3,540.5C1532.9,537.9 1533.4,535.3 1534,532.7C1534.5,530.1 1535.1,527.5 1535.6,524.9C1536.2,522.3 1536.8,519.7 1537.4,517.1C1538,514.5 1538.6,511.9 1539.2,509.3C1539.8,506.7 1540.4,504.1 1541,501.5C1541.6,498.9 1542.2,496.3 1542.8,493.7C1543.4,491.1 1544.1,488.5 1544.7,486C1545.3,483.4 1546,480.8 1546.6,478.2C1547.3,475.6 1548,473 1548.6,470.5C1549.3,467.9 1550,465.3 1550.7,462.7C1551.4,460.2 1552.1,457.6 1552.8,455C1553.6,452.5 1554.3,449.9 1555.1,447.4C1555.8,444.8 1556.6,442.2 1557.3,439.7C1558.1,437.1 1558.8,434.6 1559.6,432C1560.4,429.5 1561.2,426.9 1561.9,424.4C1562.7,421.8 1563.5,419.3 1564.3,416.7C1565.1,414.2 1565.8,411.6 1566.6,409.1C1567.4,406.6 1568.2,404 1569,401.5C1569.9,398.9 1570.7,396.4 1571.5,393.9C1572.4,391.4 1573.3,388.8 1574.2,386.3C1575.1,383.8 1576,381.3 1577,378.8C1577.9,376.4 1578.9,373.9 1580,371.4C1581,369 1582,366.5 1583.1,364.1C1584.2,361.6 1585.2,359.2 1586.3,356.8C1587.5,354.3 1588.6,351.9 1589.7,349.5C1590.8,347.1 1592,344.7 1593.1,342.3C1594.3,339.9 1595.5,337.5 1596.6,335.1C1597.8,332.7 1599,330.3 1600.2,328C1601.4,325.6 1602.6,323.2 1603.8,320.8C1605,318.5 1606.3,316.1 1607.5,313.8C1608.8,311.4 1610.1,309.1 1611.3,306.7C1612.6,304.4 1613.9,302.1 1615.2,299.7C1616.6,297.4 1617.9,295.1 1619.3,292.8C1620.6,290.5 1622,288.3 1623.4,286C1624.8,283.8 1626.3,281.5 1627.8,279.3C1629.2,277.1 1630.7,274.9 1632.3,272.7C1633.8,270.5 1635.3,268.3 1636.9,266.2C1638.5,264 1640.1,261.9 1641.7,259.8C1643.4,257.7 1645,255.6 1646.7,253.6C1648.4,251.5 1650.1,249.5 1651.9,247.5C1653.6,245.4 1655.4,243.5 1657.2,241.5C1659,239.5 1660.8,237.6 1662.7,235.7C1664.6,233.8 1666.4,231.9 1668.4,230C1670.3,228.2 1672.2,226.4 1674.2,224.6C1676.2,222.8 1678.2,221 1680.2,219.3C1682.2,217.6 1684.3,215.9 1686.4,214.2C1688.5,212.6 1690.6,211 1692.8,209.4C1694.9,207.9 1697.1,206.4 1699.4,204.9C1701.6,203.4 1703.8,202 1706.1,200.6C1708.4,199.2 1710.7,197.9 1713,196.6C1715.3,195.2 1717.6,194 1720,192.7C1722.4,191.4 1724.7,190.2 1727.1,189C1729.5,187.8 1731.9,186.6 1734.3,185.5C1736.7,184.3 1739.1,183.2 1741.5,182C1743.9,180.9 1746.3,179.8 1748.7,178.7C1751.1,177.5 1753.6,176.4 1756,175.3C1758.4,174.2 1760.8,173.1 1763.3,172.1C1765.7,171 1768.2,169.9 1770.6,168.9C1773.1,167.8 1775.5,166.7 1778,165.7C1780.4,164.7 1782.9,163.6 1785.3,162.6C1787.8,161.6 1790.3,160.6 1792.7,159.6C1795.2,158.6 1797.7,157.6 1800.2,156.7C1802.7,155.7 1805.1,154.7 1807.6,153.8C1810.1,152.8 1812.6,151.9 1815.1,150.9C1817.6,150 1820.1,149.1 1822.6,148.1C1825.1,147.2 1827.6,146.3 1830.1,145.3C1832.6,144.4 1835.1,143.5 1837.6,142.6C1840.1,141.6 1842.6,140.7 1845.1,139.8C1847.6,138.9 1850.1,137.9 1852.6,137C1855.1,136.1 1857.6,135.1 1860.1,134.2C1862.5,133.3 1865,132.3 1867.5,131.4C1870,130.5 1872.5,129.5 1875,128.6C1877.5,127.7 1880,126.7 1882.5,125.8C1885,124.9 1888.8,123.5 1890,123" stroke="#0000ff" stroke-width="5.2" stroke-linejoin="round"/>
<g stroke="#00ff00" stroke-width="9" stroke-linecap="round">
<path d="M292,96.8 L297,97.2"/>
<path d="M339,101.1 L344,101.7"/>
<path d="M386.5,108.5 L391.5,109.3"/>
<path d="M432.9,117.7 L437.7,118.7"/>
<path d="M479.1,128.8 L483.9,130.2"/>
<path d="M524.9,143.2 L529.5,145"/>
<path d="M568.3,162.2 L572.7,164.8"/>
<path d="M604.3,188.1 L607.9,191.5"/>
<path d="M635.9,225.1 L638.7,229.1"/>
<path d="M661.6,268.6 L664,273"/>
<path d="M682.8,313 L684.8,317.6"/>
<path d="M701.5,359.5 L703.3,364.1"/>
<path d="M719.6,403.2 L721.6,407.8"/>
<path d="M738.9,444.8 L741.9,448.8"/>
<path d="M777,480.2 L781.6,482.2"/>
<path d="M826.1,483.7 L831.1,484.3"/>
<path d="M874,490.6 L878.8,492"/>
<path d="M918.3,508.4 L922.7,510.6"/>
<path d="M959,533.5 L963,536.5"/>
<path d="M996.7,564.6 L1000.5,567.8"/>
<path d="M1032.6,597.8 L1036.8,600.6"/>
<path d="M1079.6,623.8 L1084.6,624.2"/>
<path d="M1118.6,606.9 L1122.6,603.9"/>
<path d="M1151.3,574 L1154.7,570.4"/>
<path d="M1182.4,537.6 L1185.8,534"/>
<path d="M1216.6,501.8 L1220.4,498.6"/>
<path d="M1258.8,472.2 L1263.2,470"/>
<path d="M1306.3,455.8 L1311.3,455.6"/>
<path d="M1352.2,465.2 L1356.8,467.2"/>
<path d="M1393.6,491.3 L1398,493.7"/>
<path d="M1409.4,498.9 L1414.4,498.3"/>
<path d="M1441.7,463.1 L1444.3,458.9"/>
<path d="M1461.3,416.9 L1463.1,412.3"/>
<path d="M1478.4,371.9 L1480.4,367.3"/>
<path d="M1498.7,328.2 L1500.9,323.8"/>
<path d="M1521.7,287 L1524.7,283"/>
<path d="M1552.9,251.8 L1556.7,248.6"/>
<path d="M1595.9,222.6 L1600.5,220.6"/>
<path d="M1643.8,208.4 L1648.8,207.4"/>
<path d="M1692.7,203.8 L1697.7,203.8"/>
<path d="M1740.3,205.7 L1745.3,206.3"/>
<path d="M1788.7,214.3 L1793.5,215.5"/>
<path d="M1835,230.2 L1839.6,232.2"/>
<path d="M1875.4,252.8 L1879.8,255.2"/>
</g>
<path d="M286,498C286.8,499.2 289.2,503.4 290.5,505.5C291.8,507.6 292.2,508.8 293.5,510.5C294.8,512.2 295.8,513.8 298.2,515.5C300.6,517.2 305.1,519.4 308,520.8C310.9,522.2 312.9,523 315.3,524.1C317.7,525.2 320.2,526.3 322.6,527.5C325,528.7 327.3,529.9 329.7,531.1C332.1,532.3 334.4,533.6 336.8,534.9C339.1,536.2 341.4,537.6 343.7,538.9C346,540.3 348.3,541.7 350.5,543.1C352.8,544.5 355,546 357.2,547.5C359.5,549 361.7,550.5 363.9,552C366.1,553.5 368.2,555.1 370.4,556.6C372.6,558.2 374.7,559.8 376.9,561.3C379,562.9 381.1,564.5 383.3,566.2C385.4,567.8 387.5,569.4 389.6,571.1C391.7,572.7 393.8,574.3 396,575.9C398.1,577.6 400.2,579.2 402.4,580.8C404.5,582.3 406.7,583.9 408.9,585.4C411.1,586.9 413.3,588.4 415.6,589.8C417.9,591.2 420.2,592.5 422.6,593.7C425,594.9 427.4,596 429.9,596.9C432.4,597.9 435,598.7 437.6,599.2C440.2,599.7 442.9,600.1 445.5,600.2C448.2,600.2 450.9,600.1 453.5,599.6C456.1,599.2 458.7,598.4 461.2,597.5C463.7,596.5 466.1,595.3 468.4,593.9C470.7,592.6 472.9,591 475,589.4C477.1,587.7 479,585.9 480.9,584.1C482.9,582.2 484.7,580.2 486.5,578.2C488.2,576.2 489.9,574.2 491.6,572.1C493.3,570 494.9,567.9 496.4,565.7C498,563.6 499.5,561.4 501,559.2C502.6,557 504,554.7 505.5,552.5C506.9,550.2 508.3,548 509.7,545.7C511.1,543.4 512.4,541.1 513.7,538.8C515.1,536.4 516.4,534.1 517.6,531.8C518.9,529.4 520.1,527 521.4,524.7C522.6,522.3 523.8,519.9 524.9,517.5C526.1,515.1 527.2,512.7 528.4,510.3C529.5,507.8 530.6,505.4 531.7,503C532.8,500.5 533.8,498.1 534.9,495.6C536,493.2 537,490.7 538,488.3C539.1,485.8 540.1,483.3 541.1,480.9C542.1,478.4 543.1,475.9 544.2,473.4C545.2,471 546.2,468.5 547.2,466C548.2,463.6 549.2,461.1 550.2,458.6C551.2,456.1 552.2,453.7 553.2,451.2C554.3,448.7 555.3,446.3 556.3,443.8C557.3,441.3 558.4,438.9 559.4,436.4C560.4,433.9 561.5,431.5 562.5,429C563.6,426.6 564.6,424.1 565.7,421.7C566.7,419.2 567.8,416.8 568.9,414.3C569.9,411.9 571,409.4 572.1,407C573.1,404.5 574.2,402.1 575.3,399.6C576.3,397.2 577.4,394.7 578.5,392.3C579.5,389.8 580.6,387.4 581.7,384.9C582.7,382.5 583.8,380 584.9,377.6C585.9,375.1 587,372.7 588.1,370.2C589.1,367.8 590.2,365.3 591.3,362.9C592.3,360.4 593.4,358 594.4,355.5C595.5,353.1 596.6,350.6 597.6,348.2C598.7,345.7 599.7,343.3 600.8,340.8C601.9,338.4 602.9,335.9 604,333.5C605,331 606.1,328.6 607.2,326.1C608.3,323.7 609.3,321.2 610.4,318.8C611.5,316.4 612.6,313.9 613.7,311.5C614.8,309.1 615.9,306.6 617,304.2C618.1,301.8 619.3,299.4 620.4,296.9C621.5,294.5 622.7,292.1 623.9,289.7C625,287.3 626.2,284.9 627.4,282.5C628.6,280.1 629.8,277.8 631,275.4C632.2,273 633.4,270.6 634.6,268.2C635.9,265.9 637.1,263.5 638.3,261.1C639.6,258.8 640.8,256.4 642.1,254C643.3,251.7 644.6,249.3 645.8,247C647.1,244.6 648.4,242.3 649.7,239.9C650.9,237.6 652.2,235.2 653.5,232.9C654.8,230.6 656.1,228.3 657.5,225.9C658.8,223.6 660.2,221.3 661.5,219C662.9,216.8 664.3,214.5 665.7,212.2C667.2,210 668.6,207.7 670.1,205.5C671.6,203.3 673.1,201.1 674.6,198.9C676.2,196.7 677.7,194.5 679.3,192.4C680.9,190.2 682.5,188.1 684.2,186C685.8,183.9 687.5,181.8 689.2,179.8C690.9,177.7 692.6,175.7 694.4,173.7C696.1,171.7 697.9,169.7 699.8,167.7C701.6,165.8 703.4,163.8 705.3,162C707.2,160.1 709.1,158.2 711.1,156.4C713,154.6 715,152.8 717.1,151.1C719.1,149.4 721.2,147.7 723.4,146.1C725.5,144.5 727.7,143 729.9,141.5C732.1,140 734.4,138.6 736.7,137.3C739,135.9 741.4,134.6 743.7,133.4C746.1,132.2 748.5,131 751,130C753.4,128.9 755.9,127.8 758.4,126.9C760.8,125.9 763.4,125 765.9,124.2C768.4,123.3 771,122.6 773.6,121.8C776.1,121.1 778.7,120.4 781.3,119.8C783.9,119.1 786.5,118.5 789.1,118C791.7,117.4 794.3,116.9 797,116.5C799.6,116 802.2,115.5 804.9,115.1C807.5,114.7 810.1,114.3 812.8,113.9C815.4,113.6 818.1,113.2 820.7,112.9C823.4,112.6 826,112.3 828.7,112C831.4,111.8 834,111.5 836.7,111.3C839.3,111.1 842,110.8 844.7,110.7C847.3,110.5 850,110.3 852.7,110.1C855.3,110 858,109.8 860.7,109.7C863.3,109.5 866,109.4 868.7,109.3C871.3,109.1 874,109 876.7,108.9C879.3,108.8 882,108.7 884.7,108.6C887.3,108.5 890,108.3 892.7,108.2C895.3,108.1 898,108 900.7,107.9C903.3,107.8 906,107.7 908.7,107.6C911.3,107.5 914,107.4 916.7,107.3C919.4,107.2 922,107.1 924.7,107C927.4,106.9 930,106.8 932.7,106.7C935.4,106.6 938,106.6 940.7,106.5C943.4,106.4 946,106.3 948.7,106.3C951.4,106.2 954.1,106.1 956.7,106.1C959.4,106 962.1,106 964.7,105.9C967.4,105.9 970.1,105.8 972.7,105.8C975.4,105.7 978.1,105.7 980.8,105.7C983.4,105.6 986.1,105.6 988.8,105.6C991.4,105.6 994.1,105.5 996.8,105.5C999.4,105.5 1002.1,105.5 1004.8,105.5C1007.5,105.5 1010.1,105.5 1012.8,105.5C1015.5,105.5 1018.1,105.5 1020.8,105.5C1023.5,105.5 1026.2,105.5 1028.8,105.5C1031.5,105.5 1034.2,105.6 1036.8,105.6C1039.5,105.6 1042.2,105.6 1044.8,105.6C1047.5,105.7 1050.2,105.7 1052.9,105.7C1055.5,105.7 1058.2,105.8 1060.9,105.8C1063.5,105.8 1066.2,105.8 1068.9,105.9C1071.6,105.9 1074.2,105.9 1076.9,106C1079.6,106 1082.2,106 1084.9,106.1C1087.6,106.1 1090.2,106.1 1092.9,106.1C1095.6,106.2 1098.3,106.2 1100.9,106.2C1103.6,106.3 1106.3,106.3 1108.9,106.3C1111.6,106.4 1114.3,106.4 1116.9,106.4C1119.6,106.5 1122.3,106.5 1125,106.5C1127.6,106.6 1130.3,106.6 1133,106.6C1135.6,106.7 1138.3,106.7 1141,106.8C1143.7,106.8 1146.3,106.8 1149,106.9C1151.7,106.9 1154.3,107 1157,107C1159.7,107.1 1162.3,107.1 1165,107.2C1167.7,107.2 1170.4,107.3 1173,107.3C1175.7,107.4 1178.4,107.5 1181,107.5C1183.7,107.6 1186.4,107.6 1189,107.7C1191.7,107.8 1194.4,107.8 1197,107.9C1199.7,108 1202.4,108.1 1205.1,108.2C1207.7,108.2 1210.4,108.3 1213.1,108.4C1215.7,108.5 1218.4,108.6 1221.1,108.7C1223.7,108.8 1226.4,108.9 1229.1,109C1231.7,109.1 1234.4,109.2 1237.1,109.3C1239.8,109.4 1242.4,109.5 1245.1,109.7C1247.8,109.8 1250.4,109.9 1253.1,110C1255.8,110.2 1258.4,110.3 1261.1,110.5C1263.8,110.6 1266.4,110.7 1269.1,110.9C1271.8,111 1274.4,111.2 1277.1,111.4C1279.8,111.5 1282.4,111.7 1285.1,111.9C1287.7,112 1290.4,112.2 1293.1,112.4C1295.7,112.6 1298.4,112.8 1301.1,113C1303.7,113.2 1306.4,113.4 1309.1,113.6C1311.7,113.8 1314.4,114 1317,114.3C1319.7,114.5 1322.4,114.7 1325,115C1327.7,115.3 1330.3,115.5 1333,115.8C1335.6,116.1 1338.3,116.4 1340.9,116.7C1343.6,117 1346.3,117.3 1348.9,117.7C1351.5,118 1354.2,118.4 1356.8,118.7C1359.5,119.1 1362.1,119.5 1364.8,119.9C1367.4,120.3 1370.1,120.7 1372.7,121.1C1375.3,121.5 1378,122 1380.6,122.5C1383.2,123 1385.8,123.5 1388.4,124.1C1391,124.7 1393.6,125.3 1396.2,125.9C1398.8,126.6 1401.4,127.3 1403.9,128.1C1406.5,128.9 1409,129.7 1411.5,130.7C1414,131.6 1416.5,132.6 1418.9,133.7C1421.4,134.8 1423.8,136 1426.1,137.2C1428.5,138.5 1430.8,139.9 1433,141.3C1435.3,142.7 1437.5,144.2 1439.7,145.8C1441.8,147.3 1443.9,149 1446,150.7C1448.1,152.4 1450.1,154.2 1452,156C1454,157.8 1455.9,159.6 1457.8,161.6C1459.6,163.5 1461.5,165.4 1463.3,167.4C1465,169.4 1466.8,171.4 1468.5,173.4C1470.2,175.5 1471.9,177.6 1473.5,179.7C1475.2,181.8 1476.8,183.9 1478.4,186C1480,188.2 1481.5,190.4 1483.1,192.5C1484.6,194.7 1486.1,196.9 1487.6,199.2C1489.1,201.4 1490.5,203.6 1492,205.9C1493.4,208.1 1494.8,210.4 1496.2,212.7C1497.6,215 1498.9,217.3 1500.3,219.6C1501.6,221.9 1502.9,224.2 1504.3,226.5C1505.6,228.9 1506.9,231.2 1508.1,233.5C1509.4,235.9 1510.7,238.2 1512,240.6C1513.2,242.9 1514.5,245.3 1515.7,247.7C1516.9,250 1518.2,252.4 1519.4,254.8C1520.6,257.1 1521.8,259.5 1523,261.9C1524.2,264.3 1525.5,266.7 1526.7,269.1C1527.8,271.4 1529,273.8 1530.2,276.2C1531.4,278.6 1532.6,281 1533.7,283.4C1534.9,285.8 1536.1,288.2 1537.2,290.6C1538.4,293.1 1539.5,295.5 1540.6,297.9C1541.8,300.3 1542.9,302.7 1544,305.2C1545.1,307.6 1546.2,310 1547.3,312.5C1548.4,314.9 1549.5,317.3 1550.6,319.8C1551.7,322.2 1552.8,324.6 1553.9,327.1C1555,329.5 1556.1,331.9 1557.1,334.4C1558.2,336.8 1559.3,339.3 1560.4,341.7C1561.4,344.2 1562.5,346.6 1563.5,349.1C1564.6,351.5 1565.6,354 1566.6,356.5C1567.7,358.9 1568.7,361.4 1569.7,363.9C1570.7,366.3 1571.7,368.8 1572.7,371.3C1573.7,373.8 1574.7,376.3 1575.7,378.7C1576.6,381.2 1577.6,383.7 1578.6,386.2C1579.6,388.7 1580.5,391.2 1581.5,393.7C1582.4,396.2 1583.4,398.7 1584.3,401.2C1585.3,403.7 1586.2,406.2 1587.2,408.6C1588.1,411.1 1589.1,413.6 1590,416.1C1591,418.6 1591.9,421.1 1592.8,423.6C1593.8,426.1 1594.7,428.6 1595.7,431.1C1596.6,433.6 1597.6,436.1 1598.5,438.6C1599.5,441.1 1600.4,443.6 1601.4,446.1C1602.3,448.6 1603.3,451.1 1604.2,453.6C1605.2,456.1 1606.1,458.6 1607.1,461.1C1608,463.6 1609,466.1 1609.9,468.6C1610.9,471.1 1611.8,473.6 1612.8,476C1613.8,478.5 1614.7,481 1615.7,483.5C1616.6,486 1617.6,488.5 1618.5,491C1619.5,493.5 1620.4,496 1621.4,498.5C1622.3,501 1623.3,503.5 1624.2,506C1625.2,508.5 1626.2,511 1627.1,513.5C1628.1,516 1629,518.5 1630,520.9C1630.9,523.4 1631.9,525.9 1632.8,528.4C1633.8,530.9 1634.7,533.4 1635.7,535.9C1636.6,538.4 1637.6,540.9 1638.5,543.4C1639.4,545.9 1640.4,548.4 1641.3,550.9C1642.3,553.4 1643.2,555.9 1644.2,558.4C1645.1,560.9 1646,563.4 1647,565.9C1647.9,568.4 1648.9,570.9 1649.8,573.4C1650.8,575.9 1651.7,578.4 1652.7,580.9C1653.6,583.4 1654.6,585.9 1655.6,588.3C1656.6,590.8 1657.5,593.3 1658.5,595.8C1659.5,598.3 1660.5,600.8 1661.5,603.2C1662.5,605.7 1663.6,608.2 1664.6,610.6C1665.6,613.1 1666.7,615.6 1667.7,618C1668.8,620.5 1669.9,622.9 1670.9,625.3C1672,627.8 1673.1,630.2 1674.2,632.6C1675.4,635.1 1676.5,637.5 1677.6,639.9C1678.8,642.3 1680,644.7 1681.1,647.1C1682.3,649.5 1683.5,651.9 1684.8,654.2C1686,656.6 1687.3,659 1688.6,661.3C1689.9,663.6 1691.2,665.9 1692.6,668.2C1694,670.5 1695.5,672.7 1697,674.9C1698.5,677.1 1700.1,679.3 1701.8,681.3C1703.5,683.4 1705.3,685.4 1707.2,687.3C1709.1,689.1 1711.1,691 1713.2,692.6C1715.3,694.2 1717.5,695.8 1719.8,697.1C1722.1,698.4 1724.5,699.6 1726.9,700.7C1729.4,701.7 1732,702.5 1734.5,703.2C1737.1,703.9 1739.8,704.3 1742.4,704.7C1745,705.1 1747.7,705.3 1750.4,705.5C1753,705.6 1755.7,705.6 1758.4,705.6C1761,705.6 1763.7,705.5 1766.4,705.5C1769.1,705.4 1771.7,705.2 1774.4,705.2C1777.1,705.1 1779.7,705 1782.4,705C1785.1,705 1787.7,705 1790.4,705.2C1793.1,705.3 1795.7,705.5 1798.4,705.8C1801.1,706 1803.7,706.4 1806.3,706.9C1809,707.3 1811.6,707.9 1814.2,708.6C1816.8,709.2 1819.3,710 1821.9,710.8C1824.4,711.6 1826.9,712.5 1829.4,713.5C1831.9,714.4 1834.3,715.5 1836.8,716.6C1839.2,717.7 1841.6,718.9 1844,720.1C1846.4,721.2 1848.8,722.5 1851.1,723.8C1853.4,725 1855.8,726.4 1858.1,727.7C1860.4,729 1862.7,730.4 1865,731.8C1867.3,733.1 1869.5,734.6 1871.8,736C1874.1,737.4 1876.3,738.8 1878.6,740.2C1880.8,741.7 1883.1,743.1 1885.3,744.6C1887.5,746.1 1890.9,748.3 1892,749" stroke="#ff00ff" stroke-width="9" stroke-linejoin="round"/>
</g>
<g stroke="#000" stroke-width="3.9" fill="none" stroke-linecap="butt">
<path d="M290.9,62.3 V1252.4"/>
<path d="M288.9,1250.4 H1884.2"/>
<path d="M290.9,64.3 H266.4"/>
<path d="M290.9,182.9 H277.4"/>
<path d="M290.9,301.4 H266.4"/>
<path d="M290.9,420 H277.4"/>
<path d="M290.9,538.6 H266.4"/>
<path d="M290.9,657.1 H277.4"/>
<path d="M290.9,775.7 H266.4"/>
<path d="M290.9,894.3 H277.4"/>
<path d="M290.9,1012.9 H266.4"/>
<path d="M290.9,1131.4 H277.4"/>
<path d="M290.9,1250.4 H266.4"/>
<path d="M362.2,1250.4 V1263.9"/>
<path d="M442.2,1250.4 V1274.9"/>
<path d="M522.2,1250.4 V1263.9"/>
<path d="M602.2,1250.4 V1274.9"/>
<path d="M682.2,1250.4 V1263.9"/>
<path d="M762.2,1250.4 V1274.9"/>
<path d="M842.2,1250.4 V1263.9"/>
<path d="M922.2,1250.4 V1274.9"/>
<path d="M1002.2,1250.4 V1263.9"/>
<path d="M1082.2,1250.4 V1274.9"/>
<path d="M1162.2,1250.4 V1263.9"/>
<path d="M1242.2,1250.4 V1274.9"/>
<path d="M1322.2,1250.4 V1263.9"/>
<path d="M1402.2,1250.4 V1274.9"/>
<path d="M1482.2,1250.4 V1263.9"/>
<path d="M1562.2,1250.4 V1274.9"/>
<path d="M1642.2,1250.4 V1263.9"/>
<path d="M1722.2,1250.4 V1274.9"/>
<path d="M1802.2,1250.4 V1263.9"/>
<path d="M1882.2,1250.4 V1274.9"/>
</g>
<g font-size="62.2">
<text transform="translate(251.5,82.8) scale(1,1.048)" text-anchor="end">0</text>
<text transform="translate(251.5,319.9) scale(1,1.048)" text-anchor="end">-10</text>
<text transform="translate(251.5,557.1) scale(1,1.048)" text-anchor="end">-20</text>
<text transform="translate(251.5,794.2) scale(1,1.048)" text-anchor="end">-30</text>
<text transform="translate(251.5,1031.4) scale(1,1.048)" text-anchor="end">-40</text>
<text transform="translate(251.5,1268.5) scale(1,1.048)" text-anchor="end">-50</text>
<text transform="translate(441.7,1337.3) scale(1,1.048)" text-anchor="middle">2</text>
<text transform="translate(601.7,1337.3) scale(1,1.048)" text-anchor="middle">4</text>
<text transform="translate(761.7,1337.3) scale(1,1.048)" text-anchor="middle">6</text>
<text transform="translate(921.7,1337.3) scale(1,1.048)" text-anchor="middle">8</text>
<text transform="translate(1081.7,1337.3) scale(1,1.048)" text-anchor="middle">10</text>
<text transform="translate(1241.7,1337.3) scale(1,1.048)" text-anchor="middle">12</text>
<text transform="translate(1401.7,1337.3) scale(1,1.048)" text-anchor="middle">14</text>
<text transform="translate(1561.7,1337.3) scale(1,1.048)" text-anchor="middle">16</text>
<text transform="translate(1721.7,1337.3) scale(1,1.048)" text-anchor="middle">18</text>
<text transform="translate(1881.7,1337.3) scale(1,1.048)" text-anchor="middle">20</text>
</g>
<text x="1088" y="1441.3" font-size="67" text-anchor="middle">Frequency (GHZ)</text>
<text transform="translate(90,628) rotate(-90)" font-size="67" text-anchor="middle">S-Parameters (dB)</text>
<rect x="366.8" y="925.2" width="825.6" height="317.8" fill="#fff" stroke="#2a2a2a" stroke-width="2.4"/>
<path d="M409.7,976 H545.2" stroke="#000" stroke-width="6.5" stroke-dasharray="29.5,27" fill="none"/>
<path d="M411.7,1053.9 H543.2" stroke="#0000ff" stroke-width="6.6" stroke-linecap="round" fill="none"/>
<path d="M413.2,1132.5 h5.5" stroke="#00ff00" stroke-width="10.2" stroke-linecap="round" fill="none"/>
<path d="M461.6,1132.5 h5.5" stroke="#00ff00" stroke-width="10.2" stroke-linecap="round" fill="none"/>
<path d="M510.1,1132.5 h5.5" stroke="#00ff00" stroke-width="10.2" stroke-linecap="round" fill="none"/>
<path d="M413.2,1210.2 H541.7" stroke="#ff00ff" stroke-width="9.5" stroke-linecap="round" fill="none"/>
<g font-size="59" word-spacing="-1.9">
<text transform="translate(556.5,996.8) scale(1,1.04)" xml:space="preserve">S11: (OFF (2500 <tspan class="om" font-size="57" textLength="46.5" lengthAdjust="spacingAndGlyphs">Ω</tspan>.cm)</text>
<text transform="translate(556.5,1074.9) scale(1,1.04)" xml:space="preserve">S21: (OFF (2500 <tspan class="om" font-size="57" textLength="46.5" lengthAdjust="spacingAndGlyphs">Ω</tspan>.cm)</text>
<text transform="translate(556.5,1152.6) scale(1,1.04)" xml:space="preserve">S11: ON (0.5 <tspan class="om" font-size="57" textLength="46.5" lengthAdjust="spacingAndGlyphs">Ω</tspan>.cm)</text>
<text transform="translate(556.5,1230.1) scale(1,1.04)" xml:space="preserve">S21: ON (0.5 <tspan class="om" font-size="57" textLength="46.5" lengthAdjust="spacingAndGlyphs">Ω</tspan>.cm)</text>
</g>
</g>
</svg></body></html>
